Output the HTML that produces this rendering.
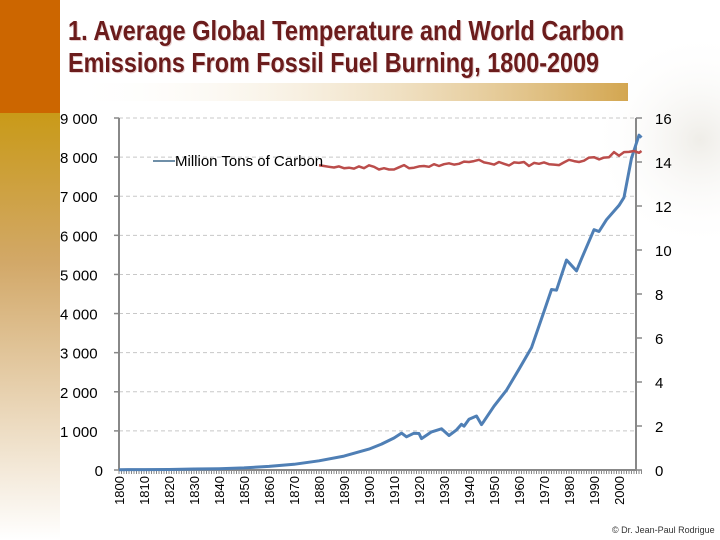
<!DOCTYPE html>
<html><head><meta charset="utf-8"><style>
html,body{margin:0;padding:0;background:#fff;}
svg{display:block;font-family:"Liberation Sans",sans-serif;}
</style></head><body>
<svg id="chart" width="720" height="540" viewBox="0 0 720 540" xmlns="http://www.w3.org/2000/svg">
<defs>
<linearGradient id="sideg" x1="0" y1="0" x2="0" y2="1">
<stop offset="0" stop-color="#c99a18"/><stop offset="0.35" stop-color="#d2a868"/><stop offset="1" stop-color="#ffffff"/></linearGradient>
<linearGradient id="barg" x1="0" y1="0" x2="1" y2="0">
<stop offset="0" stop-color="#ffffff" stop-opacity="0"/><stop offset="1" stop-color="#d3a650"/></linearGradient>
<radialGradient id="globe" cx="0.5" cy="0.5" r="0.5"><stop offset="0" stop-color="#efede8"/><stop offset="1" stop-color="#ffffff" stop-opacity="0"/></radialGradient>
</defs>
<rect x="0" y="0" width="60" height="113" fill="#cc6600"/>
<rect x="0" y="113" width="60" height="427" fill="url(#sideg)"/>
<circle cx="700" cy="140" r="110" fill="url(#globe)"/>
<rect x="68" y="83" width="560" height="18" fill="url(#barg)"/>
<g font-weight="bold" fill="#6b1c1c">
<text x="69" y="41" font-size="28" textLength="556" lengthAdjust="spacingAndGlyphs" fill="#e8d0d0">1. Average Global Temperature and World Carbon</text>
<text x="68" y="40" font-size="28" textLength="556" lengthAdjust="spacingAndGlyphs">1. Average Global Temperature and World Carbon</text>
<text x="69" y="73" font-size="28" textLength="531" lengthAdjust="spacingAndGlyphs" fill="#e8d0d0">Emissions From Fossil Fuel Burning, 1800-2009</text>
<text x="68" y="72" font-size="28" textLength="531" lengthAdjust="spacingAndGlyphs">Emissions From Fossil Fuel Burning, 1800-2009</text>
</g>
<g id="grid"></g><g id="axes"></g><g id="series"></g>
<g>
<line x1="153" y1="161" x2="175" y2="161" stroke="#6f8fa8" stroke-width="2"/>
<text x="175" y="166" font-size="15">Million Tons of Carbon</text>
</g>
<text x="612" y="533" font-size="9" fill="#333">© Dr. Jean-Paul Rodrigue</text>
</svg>
<script>
const carbonYears=[1800,1810,1820,1830,1840,1850,1860,1870,1880,1890,1900,1905,1910,1913,1915,1918,1920,1921,1925,1929,1932,1935,1937,1938,1940,1943,1945,1946,1950,1955,1960,1965,1970,1973,1975,1979,1980,1983,1985,1990,1992,1995,2000,2002,2005,2008,2009];
const carbonValues=[8,10,14,25,33,54,91,147,236,356,534,663,819,943,850,940,932,803,975,1053,881,1025,1169,1120,1299,1380,1160,1250,1630,2040,2577,3130,4053,4614,4596,5369,5300,5090,5400,6144,6097,6400,6765,6970,7971,8560,8500];
const tempYears=[1880,1882,1884,1886,1888,1890,1892,1894,1896,1898,1900,1902,1904,1906,1908,1910,1912,1914,1916,1918,1920,1922,1924,1926,1928,1930,1932,1934,1936,1938,1940,1942,1944,1946,1948,1950,1952,1954,1956,1958,1960,1962,1964,1966,1968,1970,1972,1974,1976,1978,1980,1982,1984,1986,1988,1990,1992,1994,1996,1998,2000,2002,2004,2006,2008,2009];
const tempValues=[13.85,13.82,13.78,13.75,13.8,13.72,13.74,13.7,13.8,13.72,13.85,13.78,13.66,13.72,13.66,13.66,13.76,13.86,13.72,13.74,13.8,13.82,13.78,13.9,13.82,13.9,13.94,13.88,13.92,14.02,14.0,14.04,14.1,13.98,13.94,13.88,14.0,13.92,13.84,13.98,13.96,14.0,13.82,13.96,13.92,13.98,13.9,13.88,13.86,13.98,14.1,14.04,14.0,14.06,14.2,14.22,14.12,14.2,14.22,14.45,14.28,14.45,14.46,14.5,14.42,14.5];
const leftTicks=["0","1 000","2 000","3 000","4 000","5 000","6 000","7 000","8 000","9 000"];
const rightTicks=["0","2","4","6","8","10","12","14","16"];
const xLabels=["1800","1810","1820","1830","1840","1850","1860","1870","1880","1890","1900","1910","1920","1930","1940","1950","1960","1970","1980","1990","2000"];

const NS="http://www.w3.org/2000/svg";
const X0=119,X1=636,Y0=470,Y1=118;
function x(yr){return X0+(yr-1800)*2.5;}
function yL(v){return Y0-(v/9000)*(Y0-Y1);}
function yR(v){return Y0-(v/16)*(Y0-Y1);}
function mk(tag,attrs,parent){const e=document.createElementNS(NS,tag);for(const k in attrs)e.setAttribute(k,attrs[k]);parent.appendChild(e);return e;}
const grid=document.getElementById('grid'),axes=document.getElementById('axes'),series=document.getElementById('series');
leftTicks.forEach((t,i)=>{const v=i*1000,yy=yL(v);
 if(i>0){const g=mk('line',{x1:X0,x2:X1,y1:yy,y2:yy,stroke:'#c8c8c8','stroke-dasharray':'4,3','stroke-width':1},grid);
 
 }
 const tk=mk('line',{x1:X0-5,x2:X0,y1:yy,y2:yy,stroke:'#888','stroke-width':1.5},axes);
 
 
 const tx=mk('text',{x:i==0?103:60,y:yy+6,'font-size':15,'text-anchor':i==0?'end':'start'},axes);tx.textContent=t;
 
 
});
rightTicks.forEach((t,i)=>{const yy=yR(i*2);
 const tk=mk('line',{x1:X1,x2:X1+6,y1:yy,y2:yy,stroke:'#888','stroke-width':1.5},axes);
 
 
 const tx=mk('text',{x:655,y:yy+6,'font-size':15},axes);tx.textContent=t;
 
 
});
let ax=mk('line',{x1:X0,x2:X0,y1:Y1,y2:Y0,stroke:'#888','stroke-width':2},axes);


ax=mk('line',{x1:X1,x2:X1,y1:Y1,y2:Y0,stroke:'#888','stroke-width':2},axes);


ax=mk('line',{x1:X0,x2:X1,y1:Y0,y2:Y0,stroke:'#888','stroke-width':2},axes);


for(let yr=1800;yr<=2009;yr++){const t=mk('line',{x1:x(yr),x2:x(yr),y1:Y0,y2:Y0+4,stroke:'#888','stroke-width':1},axes);
 
 }
xLabels.forEach(l=>{const xx=x(+l)+5;
 const t=mk('text',{x:0,y:0,'font-size':13,'text-anchor':'end',transform:`translate(${xx},476) rotate(-90)`},axes);t.textContent=l;
 
 
});
const cp=carbonYears.map((yr,i)=>x(yr).toFixed(1)+','+yL(carbonValues[i]).toFixed(1)).join(' ');
const cl=mk('polyline',{points:cp,fill:'none',stroke:'#4f7fb5','stroke-width':3,'stroke-linejoin':'round'},series);


const tp=tempYears.map((yr,i)=>x(yr).toFixed(1)+','+yR(tempValues[i]).toFixed(1)).join(' ');
const tl=mk('polyline',{points:tp,fill:'none',stroke:'#bb4d4b','stroke-width':2.5,'stroke-linejoin':'round'},series);


</script>
</body></html>
